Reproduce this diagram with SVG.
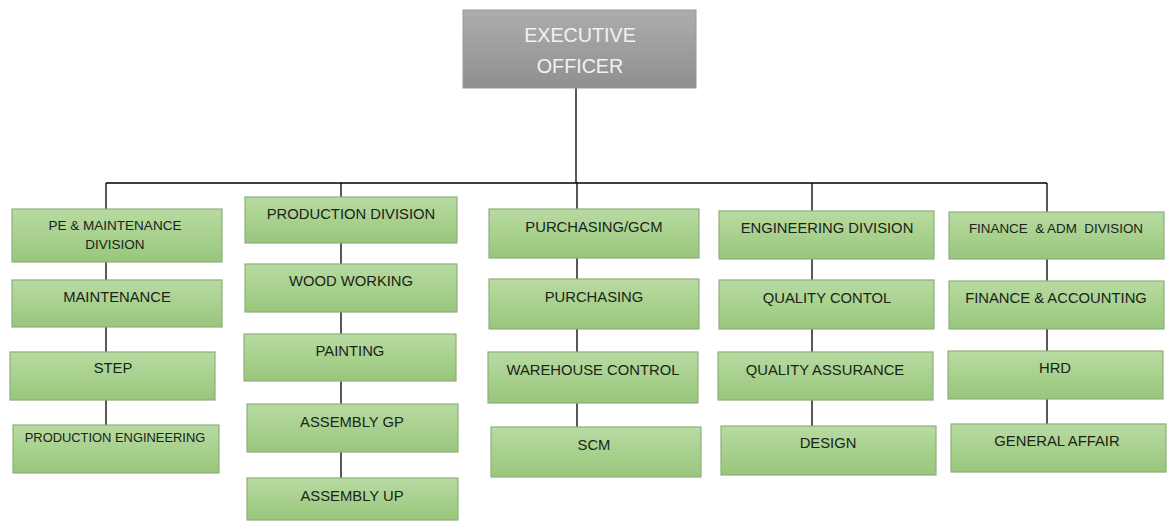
<svg xmlns="http://www.w3.org/2000/svg" width="1168" height="521" viewBox="0 0 1168 521">
<defs>
<linearGradient id="g" x1="0" y1="0" x2="0" y2="1">
<stop offset="0" stop-color="#b8dba2"/>
<stop offset="1" stop-color="#98c67b"/>
</linearGradient>
<linearGradient id="gr" x1="0" y1="0" x2="0" y2="1">
<stop offset="0" stop-color="#adadad"/>
<stop offset="1" stop-color="#8f8f8f"/>
</linearGradient>
<style>
.b{fill:url(#g);stroke:#8fae7c;stroke-width:1.2}
.t{font-family:"Liberation Sans",Arial,sans-serif;font-size:14.8px;fill:#1a2418;text-anchor:middle}
.s1{font-size:13.5px}
.s2{font-size:12.9px}
.s3{font-size:13.4px}
.e{font-family:"Liberation Sans",Arial,sans-serif;font-size:19.7px;fill:#f2f2f2;text-anchor:middle}
.c{stroke:#000;stroke-width:1.3;fill:none}
</style>
</defs>
<rect width="1168" height="521" fill="#fff"/>
<g id="connectors">
<path class="c" d="M576 88V183M106 183H1047M106 183V209M341 183V197M577 183V209M812 183V211M1047 183V212"/>
<path class="c" d="M106 262V280M106 327V352M106 400V425"/>
<path class="c" d="M341 243V264M341 312V334M341 381V404M341 452V478"/>
<path class="c" d="M577 258V279M577 329V352M577 403V427"/>
<path class="c" d="M812 259V280M812 329V352M812 400V426"/>
<path class="c" d="M1047 259V281M1047 329V351M1047 399V424"/>
</g>
<g id="exec"><rect x="463" y="10" width="233" height="78" fill="url(#gr)" stroke="#999" stroke-width="1"/><text class="e" x="580" y="42">EXECUTIVE</text><text class="e" x="580" y="73">OFFICER</text></g>
<g id="pe-div"><rect class="b" x="12" y="209" width="210" height="53"/><text class="t s1" x="115" y="230">PE &amp; MAINTENANCE</text><text class="t s1" x="115" y="249">DIVISION</text></g>
<g id="maintenance"><rect class="b" x="12" y="280" width="210" height="47"/><text class="t" x="117" y="302">MAINTENANCE</text></g>
<g id="step"><rect class="b" x="10" y="352" width="205" height="48"/><text class="t" x="113" y="373">STEP</text></g>
<g id="prod-eng"><rect class="b" x="13" y="425" width="206" height="48"/><text class="t s2" x="115" y="442">PRODUCTION ENGINEERING</text></g>
<g id="prod-div"><rect class="b" x="245" y="197" width="212" height="46"/><text class="t" x="351" y="219">PRODUCTION DIVISION</text></g>
<g id="wood"><rect class="b" x="245" y="264" width="212" height="48"/><text class="t" x="351" y="286">WOOD WORKING</text></g>
<g id="painting"><rect class="b" x="244" y="334" width="212" height="47"/><text class="t" x="350" y="356">PAINTING</text></g>
<g id="asm-gp"><rect class="b" x="247" y="404" width="211" height="48"/><text class="t" x="352" y="427">ASSEMBLY GP</text></g>
<g id="asm-up"><rect class="b" x="247" y="478" width="211" height="42"/><text class="t" x="352" y="501">ASSEMBLY UP</text></g>
<g id="purch-gcm"><rect class="b" x="489" y="209" width="210" height="49"/><text class="t" x="594" y="232">PURCHASING/GCM</text></g>
<g id="purch"><rect class="b" x="489" y="279" width="210" height="50"/><text class="t" x="594" y="302">PURCHASING</text></g>
<g id="warehouse"><rect class="b" x="488" y="352" width="210" height="51"/><text class="t" x="593" y="375">WAREHOUSE CONTROL</text></g>
<g id="scm"><rect class="b" x="491" y="427" width="210" height="50"/><text class="t" x="594" y="450">SCM</text></g>
<g id="eng-div"><rect class="b" x="719" y="211" width="215" height="48"/><text class="t" x="827" y="233">ENGINEERING DIVISION</text></g>
<g id="qc"><rect class="b" x="719" y="280" width="215" height="49"/><text class="t" x="827" y="303">QUALITY CONTOL</text></g>
<g id="qa"><rect class="b" x="718" y="352" width="215" height="48"/><text class="t" x="825" y="375">QUALITY ASSURANCE</text></g>
<g id="design"><rect class="b" x="721" y="426" width="215" height="49"/><text class="t" x="828" y="448">DESIGN</text></g>
<g id="fin-adm"><rect class="b" x="949" y="212" width="215" height="47"/><text class="t s3" x="1056" y="233" xml:space="preserve">FINANCE  &amp; ADM  DIVISION</text></g>
<g id="fin-acc"><rect class="b" x="949" y="281" width="215" height="48"/><text class="t" x="1056" y="303">FINANCE &amp; ACCOUNTING</text></g>
<g id="hrd"><rect class="b" x="948" y="351" width="215" height="48"/><text class="t" x="1055" y="373">HRD</text></g>
<g id="ga"><rect class="b" x="951" y="424" width="215" height="48"/><text class="t" x="1057" y="446">GENERAL AFFAIR</text></g>
</svg>
